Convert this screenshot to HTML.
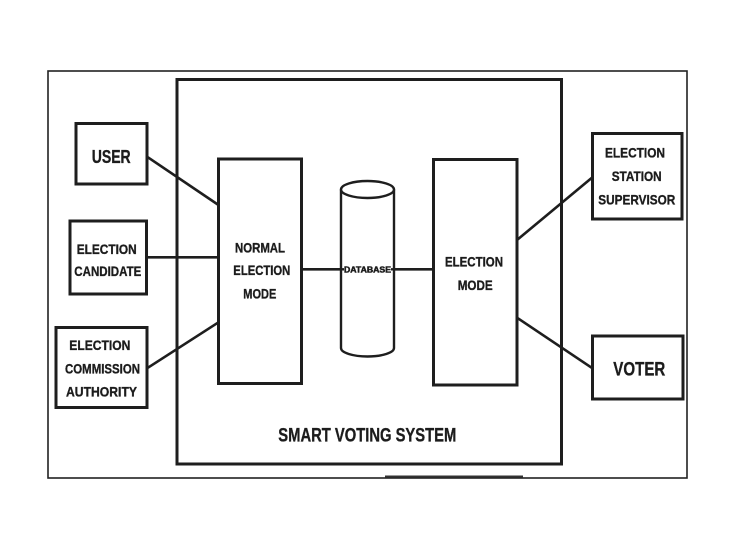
<!DOCTYPE html>
<html>
<head>
<meta charset="utf-8">
<style>
  html, body { margin: 0; padding: 0; background: #ffffff; }
  body { width: 744px; height: 552px; overflow: hidden; }
  svg { display: block; }
  text { font-family: "Liberation Sans", Arial, sans-serif; font-weight: bold; fill: #1c1c1c; stroke: #1c1c1c; stroke-width: 0.35; }
</style>
</head>
<body>
<svg width="744" height="552" viewBox="0 0 744 552" xmlns="http://www.w3.org/2000/svg">
  <rect x="0" y="0" width="744" height="552" fill="#ffffff" stroke="none"/>
  <!-- outer frame -->
  <rect x="48" y="71" width="639" height="407" fill="none" stroke="#222" stroke-width="1.6"/>
  <!-- short line at bottom -->
  <line x1="385" y1="476.5" x2="523" y2="476.5" stroke="#333" stroke-width="2"/>

  <!-- system box -->
  <rect x="177" y="79.5" width="384.5" height="384.5" fill="none" stroke="#1e1e1e" stroke-width="3"/>

  <!-- connectors -->
  <g stroke="#1e1e1e" stroke-width="2.6" fill="none">
    <line x1="147" y1="156.7" x2="218.5" y2="205"/>
    <line x1="146.5" y1="257.3" x2="218.5" y2="257.3"/>
    <line x1="147" y1="368.3" x2="218.5" y2="322.3"/>
    <line x1="301.5" y1="269.3" x2="341" y2="269.3"/>
    <line x1="394" y1="269.3" x2="433.5" y2="269.3"/>
    <line x1="517" y1="240" x2="592.5" y2="177.3"/>
    <line x1="517" y1="317.7" x2="592.5" y2="368.3"/>
  </g>

  <!-- boxes -->
  <g fill="#ffffff" stroke="#1e1e1e" stroke-width="3">
    <rect x="76" y="123.5" width="71" height="60.5"/>
    <rect x="70" y="221" width="76.5" height="73"/>
    <rect x="56" y="327.5" width="91" height="80"/>
    <rect x="218.5" y="159" width="83" height="224.5"/>
    <rect x="433.5" y="159.5" width="83.5" height="225.5"/>
    <rect x="592.5" y="133.5" width="89.5" height="85.5"/>
    <rect x="592.5" y="336" width="90.5" height="63"/>
  </g>

  <!-- database cylinder -->
  <g stroke="#1e1e1e" stroke-width="2.4" fill="#ffffff">
    <path d="M341 189.5 L341 348 A26.5 8.5 0 0 0 394 348 L394 189.5"/>
    <ellipse cx="367.5" cy="189.5" rx="26.5" ry="8.5"/>
  </g>
  <line x1="341" y1="269.3" x2="344" y2="269.3" stroke="#1e1e1e" stroke-width="2.4"/>
  <line x1="391" y1="269.3" x2="394" y2="269.3" stroke="#1e1e1e" stroke-width="2.4"/>
  <text x="344" y="272.3" font-size="8" textLength="47" lengthAdjust="spacingAndGlyphs" style="stroke-width:0.5">DATABASE</text>

  <!-- labels -->
  <text x="91.7" y="163.2" font-size="18" textLength="39" lengthAdjust="spacingAndGlyphs">USER</text>

  <text x="76.7" y="254" font-size="14" textLength="60" lengthAdjust="spacingAndGlyphs">ELECTION</text>
  <text x="74.3" y="276" font-size="14" textLength="67" lengthAdjust="spacingAndGlyphs">CANDIDATE</text>

  <text x="69.3" y="350" font-size="14" textLength="61" lengthAdjust="spacingAndGlyphs">ELECTION</text>
  <text x="65" y="373.3" font-size="14" textLength="75" lengthAdjust="spacingAndGlyphs">COMMISSION</text>
  <text x="66" y="396.7" font-size="14" textLength="71" lengthAdjust="spacingAndGlyphs">AUTHORITY</text>

  <text x="235" y="252.7" font-size="13.5" textLength="50" lengthAdjust="spacingAndGlyphs">NORMAL</text>
  <text x="233.3" y="275" font-size="13.5" textLength="57" lengthAdjust="spacingAndGlyphs">ELECTION</text>
  <text x="243.3" y="298.3" font-size="13.5" textLength="33" lengthAdjust="spacingAndGlyphs">MODE</text>

  <text x="445" y="266.7" font-size="13.5" textLength="58" lengthAdjust="spacingAndGlyphs">ELECTION</text>
  <text x="457.7" y="290" font-size="13.5" textLength="35" lengthAdjust="spacingAndGlyphs">MODE</text>

  <text x="605" y="157.7" font-size="14" textLength="60" lengthAdjust="spacingAndGlyphs">ELECTION</text>
  <text x="611.7" y="181" font-size="14" textLength="50" lengthAdjust="spacingAndGlyphs">STATION</text>
  <text x="598.3" y="204.3" font-size="14" textLength="77" lengthAdjust="spacingAndGlyphs">SUPERVISOR</text>

  <text x="613.3" y="375.3" font-size="19" textLength="52" lengthAdjust="spacingAndGlyphs">VOTER</text>

  <text x="278.3" y="441.5" font-size="19.5" textLength="178" lengthAdjust="spacingAndGlyphs">SMART VOTING SYSTEM</text>
</svg>
</body>
</html>
